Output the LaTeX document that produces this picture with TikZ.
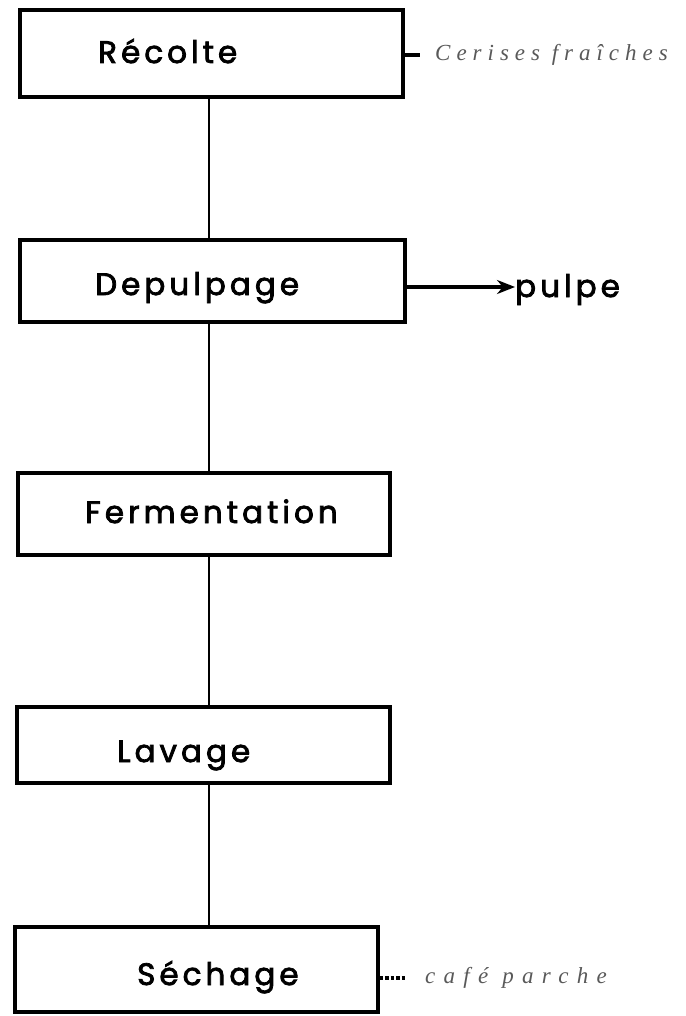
\documentclass[tikz,border=0pt]{standalone}
\usepackage{fontspec}
\setmainfont{Poppins}
\newfontfamily\stepfont[LetterSpace=13,FakeBold=2.5]{Poppins}
\newfontfamily\handfont{Liberation Serif}
\usetikzlibrary{arrows.meta}

\tikzset{
  stepbox/.style={draw, line width=3.2pt, inner sep=0pt},
  steptext/.style={font=\stepfont\fontsize{31}{36}\selectfont, anchor=base west, inner sep=0pt},
  handnote/.style={font=\handfont\itshape\addfontfeature{LetterSpace=#1}\fontsize{23}{26}\selectfont, text=black!65, anchor=west, inner sep=0pt},
  link/.style={line width=2.6pt}
}

\begin{document}
\begin{tikzpicture}[x=1pt,y=-1pt]
\useasboundingbox (0,0) rectangle (685,1016);
\coordinate (spine) at (209,0);

% boxes of the process
\node[stepbox, minimum width=383pt, minimum height=87pt] (recolte) at (211.5,53.5) {};
\node[stepbox, minimum width=385pt, minimum height=82pt] (depulpage) at (212.5,281) {};
\node[stepbox, minimum width=372pt, minimum height=82pt] (fermentation) at (204,514) {};
\node[stepbox, minimum width=373pt, minimum height=76pt] (lavage) at (203.5,745) {};
\node[stepbox, minimum width=363pt, minimum height=85pt] (sechage) at (196.5,969.5) {};

% their names
\node[steptext] (recolte-t) at (98,63) {Récolte};
\node[steptext] (depulpage-t) at (95,295) {Depulpage};
\node[steptext] (fermentation-t) at (85,523) {Fermentation};
\node[steptext] (lavage-t) at (117,762) {Lavage};
\node[steptext] (sechage-t) at (137,985) {Séchage};

% side products
\node[steptext] (pulpe) at (515,297) {pulpe};
\node[handnote=26] (cerises) at (435,55) {Cerises fraîches};
\node[handnote=36] (cafe) at (425,978) {café parche};

% links
\draw[link] (recolte.south -| spine) -- (depulpage.north -| spine);
\draw[link] (depulpage.south -| spine) -- (fermentation.north -| spine);
\draw[link] (fermentation.south -| spine) -- (lavage.north -| spine);
\draw[link] (lavage.south -| spine) -- (sechage.north -| spine);
\draw[link, line width=3.5pt, -{Stealth[length=18pt,width=14pt]}] (depulpage.east |- 0,287) -- (pulpe.west |- 0,287);
\draw[link, line width=3.5pt, shorten >=15pt] (recolte.east |- cerises.west) -- (cerises.west);
\draw[link, line width=3.5pt, dotted, shorten >=18pt] (sechage.east |- cafe.west) -- (cafe.west);
\end{tikzpicture}
\end{document}
